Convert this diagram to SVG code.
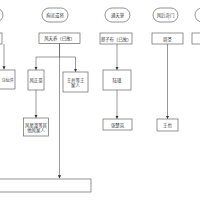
<svg xmlns="http://www.w3.org/2000/svg" width="200" height="200" viewBox="0 0 200 200">
<defs>
<marker id="ah" viewBox="0 0 6 6" refX="5" refY="3" markerWidth="3.2" markerHeight="3.2" orient="auto" markerUnits="userSpaceOnUse">
<path d="M0,0 L6,3 L0,6 Z" fill="#333"/>
</marker>
<style>
.n{fill:#fff;stroke:#666;stroke-width:0.7}
.t{font-family:"Noto Sans CJK SC","Noto Sans",sans-serif;font-size:4.4px;fill:#333;text-anchor:middle;dominant-baseline:central}
.e{fill:none;stroke:#555;stroke-width:0.6}
</style>
</defs>
<rect width="200" height="200" fill="#fff"/>
<g id="connectors">
<path class="e" d="M4,44 V69" marker-end="url(#ah)"/>
<path class="e" d="M59.5,43 V178" marker-end="url(#ah)"/>
<path class="e" d="M59.5,43 V57 H36 V69.5" marker-end="url(#ah)"/>
<path class="e" d="M59.5,57 H75.5 V71.5" marker-end="url(#ah)"/>
<path class="e" d="M36,90 V117.5" marker-end="url(#ah)"/>
<path class="e" d="M117,44 V69.5" marker-end="url(#ah)"/>
<path class="e" d="M117,90 V118.5" marker-end="url(#ah)"/>
<path class="e" d="M167.5,44 V118.5" marker-end="url(#ah)"/>
</g>
<g id="top-left"><rect class="n" x="-22" y="8" width="25" height="14" rx="7"/></g>
<g id="jlqj"><rect class="n" x="42" y="8" width="26" height="14" rx="7"/><text class="t" x="55" y="15">拘灵遣将</text></g>
<g id="ttl"><rect class="n" x="105" y="8" width="25" height="14" rx="7"/><text class="t" x="117.5" y="15">通天箓</text></g>
<g id="fhqm"><rect class="n" x="153" y="8" width="25" height="14" rx="7"/><text class="t" x="165.5" y="15">风后奇门</text></g>
<g id="top-right"><rect class="n" x="195" y="8" width="25" height="14" rx="7"/></g>
<g id="r1-left"><rect class="n" x="-30" y="33" width="32" height="11"/></g>
<g id="ftyang"><rect class="n" x="39" y="33" width="41" height="10.5"/><text class="t" x="59.5" y="38.3">风天养（已故）</text></g>
<g id="zzb"><rect class="n" x="100" y="33" width="32" height="11"/><text class="t" x="116" y="38.5">郑子布（已故）</text></g>
<g id="zs"><rect class="n" x="152" y="33" width="31" height="11"/><text class="t" x="167.5" y="38.5">周圣</text></g>
<g id="r1-right"><rect class="n" x="192" y="33" width="32" height="11"/></g>
<g id="r2-left"><rect class="n" x="-5" y="70" width="20" height="19"/><text class="t" x="7.6" y="79.5" style="font-size:4px">马仙洪</text></g>
<g id="fzh"><rect class="n" x="28" y="70" width="16" height="20"/><text class="t" x="36" y="80">风正豪</text></g>
<g id="wb"><rect class="n" x="63" y="72" width="25" height="20"/><text class="t" x="75.5" y="79.5">王并等王</text><text class="t" x="75.5" y="85">家人</text></g>
<g id="lj"><rect class="n" x="103" y="70" width="28" height="20"/><text class="t" x="117" y="80">陆瑾</text></g>
<g id="fxt"><rect class="n" x="23.5" y="118" width="25" height="18"/><text class="t" x="36" y="124.5">风星潼等其</text><text class="t" x="36" y="130">他风家人</text></g>
<g id="zcl"><rect class="n" x="103" y="119" width="29" height="11"/><text class="t" x="117.5" y="124.5">张楚岚</text></g>
<g id="wy"><rect class="n" x="157" y="119" width="21" height="12"/><text class="t" x="167.5" y="125">王也</text></g>
<g id="bottom"><rect class="n" x="-2" y="179" width="93" height="13"/></g>
</svg>
